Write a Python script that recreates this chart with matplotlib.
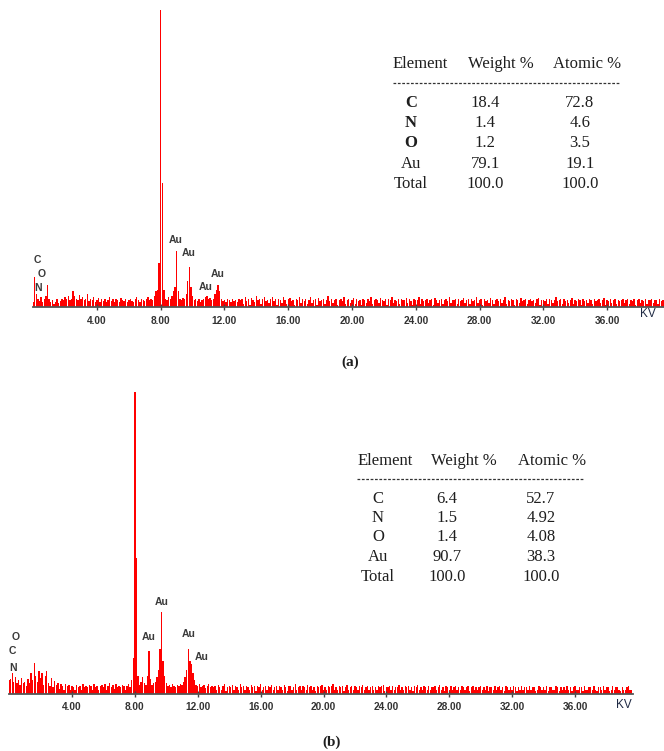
import numpy as np
import matplotlib
matplotlib.use("Agg")
import matplotlib.pyplot as plt
from matplotlib.lines import Line2D

# EDS spectrum (a): counts per 0.1 keV channel, peak at 8 keV = 1000
counts_a = [
    20, 104, 45, 30, 22, 35, 18, 28, 40, 77,
    30, 18, 25, 12, 20, 28, 15, 22, 30, 26,
    35, 28, 40, 25, 30, 57, 38, 30, 26, 42,
    28, 35, 24, 30, 45, 22, 30, 26, 36, 20,
    25, 32, 20, 28, 22, 30, 18, 26, 34, 22,
    28, 20, 30, 24, 18, 32, 26, 22, 30, 20,
    26, 30, 22, 18, 28, 34, 24, 20, 30, 26,
    22, 28, 35, 24, 30, 26, 40, 55, 60, 150,
    1000, 420, 60, 30, 25, 35, 28, 40, 55, 70,
    190, 55, 30, 24, 32, 28, 45, 90, 135, 70,
    40, 26, 30, 22, 28, 20, 25, 30, 35, 40,
    28, 32, 25, 30, 45, 60, 77, 55, 30, 22,
    26, 20, 28, 24, 18, 30, 22, 26, 20, 28,
    24, 30, 12, 35, 22, 28, 10, 32, 26, 20, 38, 24, 30, 12, 28, 34, 22, 26, 14, 30,
    36, 22, 28, 10, 30, 26, 14, 34, 24, 12, 28, 32, 22, 26, 10, 30, 24, 36, 14, 28,
    22, 30, 12, 26, 34, 16, 24, 28, 10, 32, 22, 26, 30, 12, 24, 38, 22, 28, 14, 26,
    30, 10, 24, 28, 22, 34, 12, 26, 30, 16, 24, 32, 12, 28, 22, 26, 10, 30, 24, 14,
    28, 22, 36, 12, 26, 30, 24, 14, 32, 26, 22, 28, 10, 30, 24, 34, 14, 26, 22, 28,
    12, 30, 24, 26, 32, 14, 28, 22, 10, 30, 26, 24, 34, 12, 28, 22, 26, 30, 14, 24,
    28, 10, 32, 24, 14, 26, 30, 12, 24, 28, 22, 34, 14, 26, 24, 30, 12, 28, 22, 26,
    32, 14, 24, 28, 12, 30, 22, 26, 34, 14, 24, 28, 10, 30, 22, 26, 14, 32, 24, 12,
    26, 30, 22, 28, 14, 24, 34, 12, 26, 22, 30, 24, 10, 28, 26, 14, 32, 22, 24, 28,
    12, 26, 30, 22, 24, 14, 28, 32, 10, 24, 26, 22, 30, 12, 28, 24, 14, 26, 34, 22,
    24, 28, 12, 30, 22, 26, 14, 24, 32, 12, 26, 22, 28, 24, 10, 30, 22, 26, 14, 28,
    24, 12, 30, 22, 26, 28, 14, 24, 32, 10, 26, 22, 28, 14, 24, 30, 12, 26, 22, 24,
    28, 14, 26, 30, 12, 24, 22, 28, 10, 26, 30, 14, 24, 22, 28, 12, 26, 24, 30, 14,
    24, 26, 12, 28, 22, 24,
]

# EDS spectrum (b)
counts_b = [
    45, 50, 70, 40, 55, 35, 48, 30, 52, 38,
    40, 25, 50, 35, 70, 45, 103, 60, 40, 75,
    52, 70, 30, 58, 75, 35, 28, 52, 22, 42,
    30, 38, 18, 34, 28, 14, 32, 26, 30, 14,
    28, 24, 12, 30, 22, 26, 14, 32, 24, 28,
    22, 30, 26, 12, 34, 24, 28, 14, 26, 30,
    24, 32, 14, 28, 36, 22, 30, 16, 34, 24,
    28, 22, 30, 26, 14, 28, 32, 24, 45, 120,
    1000, 450, 60, 30, 40, 56, 35, 30, 60, 141,
    50, 30, 35, 40, 55, 80, 150, 272, 110, 60,
    35, 28, 30, 24, 32, 26, 22, 30, 28, 34,
    30, 40, 55, 80, 148, 110, 100, 70, 45, 30,
    26, 34, 22, 28, 30, 20, 26, 32, 24, 28,
    22, 28, 12, 30, 24, 14, 26, 32, 10, 24, 28, 22, 30, 12, 26, 24, 14, 34, 22, 26,
    12, 28, 24, 14, 30, 22, 26, 10, 28, 24, 32, 14, 22, 28, 12, 26, 24, 30, 14, 22,
    26, 12, 28, 24, 14, 30, 22, 10, 26, 28, 14, 24, 32, 12, 22, 26, 14, 28, 24, 12,
    30, 22, 26, 14, 24, 10, 28, 22, 26, 30, 12, 24, 14, 28, 22, 26, 32, 12, 24, 14,
    26, 22, 28, 10, 24, 30, 14, 22, 26, 12, 28, 24, 14, 26, 22, 30, 12, 24, 28, 14,
    22, 26, 12, 24, 14, 28, 22, 26, 30, 10, 24, 22, 28, 14, 26, 12, 24, 22, 30, 14,
    24, 12, 26, 22, 28, 14, 24, 10, 26, 22, 30, 12, 24, 14, 26, 22, 12, 28, 14, 24,
    22, 26, 12, 24, 30, 14, 22, 10, 26, 24, 14, 28, 12, 22, 26, 14, 24, 12, 28, 22,
    14, 24, 26, 10, 22, 28, 12, 24, 14, 22, 26, 12, 24, 14, 28, 10, 22, 24, 14, 26,
    12, 22, 26, 14, 24, 10, 28, 22, 12, 24, 14, 26, 22, 10, 24, 14, 28, 12, 22, 24,
    14, 26, 12, 22, 24, 10, 14, 28, 22, 12, 24, 14, 26, 10, 22, 24, 12, 14, 26, 22,
    10, 24, 14, 22, 12, 26, 14, 24, 10, 22, 28, 12, 14, 24, 22, 10, 26, 14, 12, 24,
    22, 12, 26, 14, 10, 24, 22, 14, 28, 12, 22, 24, 10, 14, 26, 12, 22, 24, 14, 10,
    24, 14, 12, 22, 26, 14, 12,
]

ticks_kev = [4, 8, 12, 16, 20, 24, 28, 32, 36]

# peak labels: (text, keV, counts)
labels_a = [('C', 0.24, 160), ('O', 0.55, 113), ('N', 0.30, 66),
            ('Au', 8.96, 227), ('Au', 9.77, 183), ('Au', 11.6, 113), ('Au', 10.84, 69)]
labels_b = [('O', 0.44, 189), ('C', 0.18, 142), ('N', 0.25, 86),
            ('Au', 8.9, 189), ('Au', 9.73, 305), ('Au', 11.44, 199), ('Au', 12.27, 122)]

# composition tables
elements = ['C', 'N', 'O', 'Au', 'Total']
weight_a = ['18.4', '1.4', '1.2', '79.1', '100.0']
atomic_a = ['72.8', '4.6', '3.5', '19.1', '100.0']
weight_b = ['6.4', '1.5', '1.4', '90.7', '100.0']
atomic_b = ['52.7', '4.92', '4.08', '38.3', '100.0']

W, H = 664, 751
fig = plt.figure(figsize=(W / 100, H / 100), dpi=100)


def px_axes(left, top, right, bottom):
    return fig.add_axes([left / W, 1 - bottom / H, (right - left) / W, (bottom - top) / H])


def spectrum(ax, counts, labels, xmax):
    energy = np.arange(len(counts)) * 0.1
    ax.bar(energy, counts, width=0.085, color='#ff0000', linewidth=0)
    ax.set_xlim(0, xmax)
    ax.set_ylim(0, 1000)
    for s in ['left', 'right', 'top']:
        ax.spines[s].set_visible(False)
    ax.spines['bottom'].set_color('#555555')
    ax.spines['bottom'].set_linewidth(1.3)
    ax.set_yticks([])
    ax.set_xticks(ticks_kev)
    ax.set_xticklabels([f'{t:.2f}' for t in ticks_kev], fontsize=7.3,
                       fontweight='bold', family='Liberation Sans', color='#333333')
    ax.tick_params(axis='x', direction='inout', length=4, width=1, color='#444444', pad=4)
    ax.patch.set_alpha(0)
    for txt, x, y in labels:
        ax.text(x, y, txt, fontsize=7.5, fontweight='bold', family='Liberation Sans',
                color='#3a3a3a', ha='center', va='center')


ax_a = px_axes(33.2, 10, 664, 307.5)
spectrum(ax_a, counts_a, labels_a, (664 - 33.2) / 15.94)
ax_b = px_axes(9.1, 392, 633, 694)
spectrum(ax_b, counts_b, labels_b, (633 - 9.1) / 15.72)

# overlay in pixel coordinates for tables and captions
ov = fig.add_axes([0, 0, 1, 1], zorder=5)
ov.set_xlim(0, W)
ov.set_ylim(H, 0)
ov.axis('off')
ov.patch.set_alpha(0)

serif = 'Liberation Serif'
ink = '#1e1e1e'
fs = 12


def table(x_el, x_w, x_at, x_hdr, y_hdr, y_dash, y_rows, x_dash, weights, atomics, bold_el):
    for txt, x in zip(['Element', 'Weight %', 'Atomic %'], x_hdr):
        ov.text(x, y_hdr, txt, family=serif, fontsize=fs, color=ink, ha='left', va='center')
    ov.add_line(Line2D(x_dash, [y_dash, y_dash], color='#333333', lw=0.9,
                       linestyle=(0, (2.2, 1.3))))
    for i, y in enumerate(y_rows):
        fw = 'bold' if (bold_el and i < 3) else 'normal'
        ov.text(x_el, y, elements[i], family=serif, fontsize=fs, color=ink,
                ha='center', va='center', fontweight=fw)
        ov.text(x_w, y, weights[i], family=serif, fontsize=fs, color=ink, ha='center', va='center')
        ov.text(x_at, y, atomics[i], family=serif, fontsize=fs, color=ink, ha='center', va='center')


table(411, 485, 580, [393, 468, 553], 64, 83, [103, 123, 143, 164, 184], [393, 620],
      weight_a, atomic_a, True)
table(378, 447, 541, [358, 431, 518], 461, 479, [499, 518, 537, 557, 577], [357, 584],
      weight_b, atomic_b, False)

for x, y in [(648, 314), (624, 705)]:
    ov.text(x, y, 'KV', family='Liberation Sans', fontsize=8.5, color='#1f2a44',
            ha='center', va='center')

ov.text(350, 362, '(a)', family=serif, fontsize=11, fontweight='bold', color=ink,
        ha='center', va='center')
ov.text(332, 742, '(b)', family=serif, fontsize=11, fontweight='bold', color=ink,
        ha='center', va='center')

fig.savefig('out.png', dpi=100, facecolor='white')
